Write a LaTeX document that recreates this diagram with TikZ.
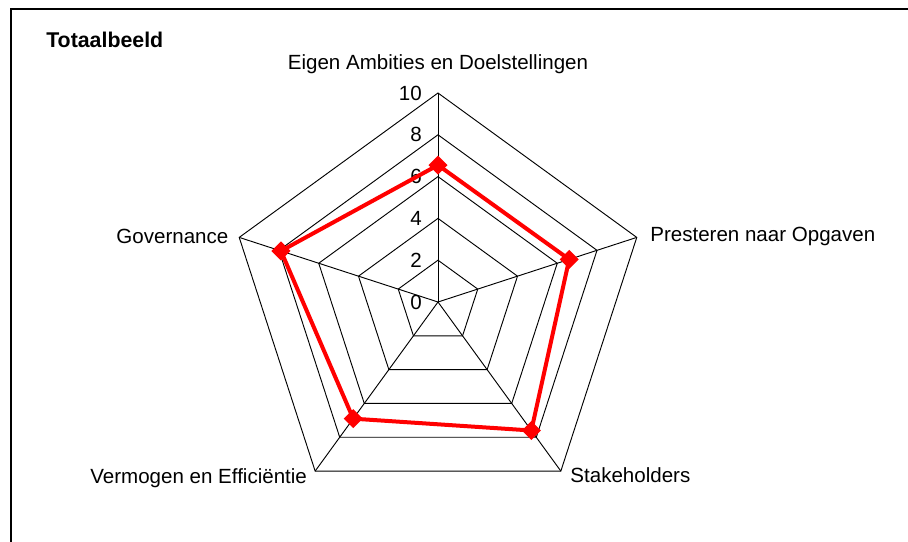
\documentclass[tikz,border=0pt]{standalone}
\usepackage{fontspec}
\setmainfont{Liberation Sans}
\usetikzlibrary{shapes.geometric}
\tikzset{
	webline/.style={draw=black,line width=0.7pt},
	axislabel/.style={font=\fontsize{15.4}{18}\selectfont,inner sep=0pt},
	ticklabel/.style={font=\fontsize{15.4}{18}\selectfont,anchor=east,inner sep=0pt},
	score/.style={shape=diamond,fill=red,draw=none,inner sep=0pt,minimum size=14.5pt}
}

\begin{document}
\begin{tikzpicture}[x=0.75pt,y=0.75pt]
		\useasboundingbox (-438,-240) rectangle (470,302);
		% frame of the chart
		\coordinate (frameB) at (-427,-240);
		\coordinate (frameTL) at (-427,293);
		\coordinate (frameR) at (470,293);
		\draw [line width=0.9pt] (frameB) -- (frameTL) -- (frameR);
		\node [font=\bfseries\fontsize{16}{19}\selectfont,anchor=west,inner sep=0pt] (title) at (-392,262) {Totaalbeeld};
		% web
		\coordinate (O) at (0,0);
		\foreach \r in {2,4,...,10}
			\draw [webline] (90:\r*20.9) -- (18:\r*20.9) -- (-54:\r*20.9) -- (-126:\r*20.9) -- (162:\r*20.9) -- cycle;
		\coordinate (ambities) at (90:209);
		\coordinate (presteren) at (18:209);
		\coordinate (stakeholders) at (-54:209);
		\coordinate (vermogen) at (-126:209);
		\coordinate (governance) at (162:209);
		\draw [webline] (O) -- (ambities);
		\draw [webline] (O) -- (presteren);
		\draw [webline] (O) -- (stakeholders);
		\draw [webline] (O) -- (vermogen);
		\draw [webline] (O) -- (governance);
		\foreach \r in {0,2,...,10}
			\node [ticklabel] (tick\r) at (-16,\r*20.9) {\r};
		% labels of the axes
		\node [axislabel,anchor=south] (lblA) at ([yshift=14]ambities) {Eigen Ambities en Doelstellingen};
		\node [axislabel,anchor=west] (lblP) at ([xshift=10,yshift=1]presteren) {Presteren naar Opgaven};
		\node [axislabel,anchor=west] (lblS) at ([xshift=7,yshift=-3]stakeholders) {Stakeholders};
		\node [axislabel,anchor=east] (lblV) at ([xshift=-6,yshift=-5]vermogen) {Vermogen en Efficiëntie};
		\node [axislabel,anchor=east] (lblG) at ([xshift=-8,yshift=1]governance) {Governance};
		% scores
		\coordinate (sA) at (90:6.55*20.9);
		\coordinate (sP) at (18:6.6*20.9);
		\coordinate (sS) at (-54:7.6*20.9);
		\coordinate (sV) at (-126:6.9*20.9);
		\coordinate (sG) at (162:7.9*20.9);
		\draw [red,line width=3pt,line join=round] (sA) -- (sP) -- (sS) -- (sV) -- (sG) -- cycle;
		\node [score] (mA) at (sA) {};
		\node [score] (mP) at (sP) {};
		\node [score] (mS) at (sS) {};
		\node [score] (mV) at (sV) {};
		\node [score] (mG) at (sG) {};
	\end{tikzpicture}
\end{document}
